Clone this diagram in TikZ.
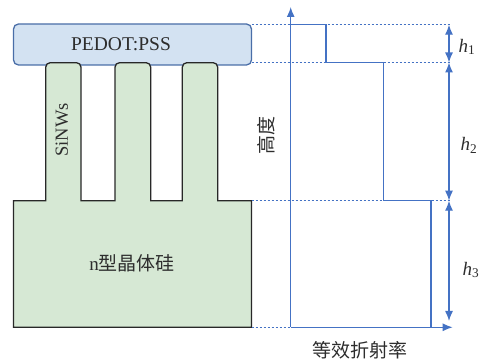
\documentclass[tikz,border=0pt]{standalone}
\usepackage{fontspec}
\setmainfont{Liberation Serif}
\newfontfamily\cjk{Noto Sans CJK SC}
\usetikzlibrary{arrows.meta}
\definecolor{lineblue}{RGB}{68,114,196}
\definecolor{boxfill}{RGB}{211,226,242}
\definecolor{boxline}{RGB}{74,110,168}
\definecolor{sifill}{RGB}{214,232,212}
\definecolor{siline}{RGB}{40,40,40}
\definecolor{txt}{RGB}{45,45,45}
\begin{document}
\begin{tikzpicture}[x=1pt,y=1pt,
  axis/.style={lineblue, line width=1.3pt, -{Latex[length=10pt,width=8pt]}},
  dim/.style={lineblue, line width=1.3pt, {Latex[length=10pt,width=8pt]}-{Latex[length=10pt,width=8pt]}},
  guide/.style={lineblue, line width=1pt, dash pattern=on 2pt off 2pt},
  profile/.style={lineblue, line width=1.3pt},
  lbl/.style={text=txt, font=\fontsize{19}{22}\selectfont, inner sep=0pt},
  pedotbox/.style={draw=boxline, fill=boxfill, line width=1.3pt, rounded corners=5pt, inner sep=0pt},
  sishape/.style={draw=siline, fill=sifill, line width=1.3pt}]
\useasboundingbox (0,0) rectangle (484,363);
% PEDOT:PSS layer
\node (pedot) [pedotbox, minimum width=238pt, minimum height=41pt] at (132.5,318.5) {};
\node (pedottext) [lbl, font=\fontsize{19.5}{22}\selectfont] at (121,318.5) {PEDOT:PSS};
% silicon with nanowires
\draw[sishape]
  (13.5,35.7) -- (13.5,162.3) -- (45.7,162.3) -- (45.7,295.8)
  arc[start angle=180,end angle=90,radius=4.5] -- (76.5,300.3)
  arc[start angle=90,end angle=0,radius=4.5] -- (81,162.3) -- (115,162.3) -- (115,295.8)
  arc[start angle=180,end angle=90,radius=4.5] -- (146.2,300.3)
  arc[start angle=90,end angle=0,radius=4.5] -- (150.7,162.3) -- (182.3,162.3) -- (182.3,295.8)
  arc[start angle=180,end angle=90,radius=4.5] -- (213.2,300.3)
  arc[start angle=90,end angle=0,radius=4.5] -- (217.7,162.3) -- (251.5,162.3) -- (251.5,35.7) -- cycle;
\node (nsi) [lbl] at (132,100) {n{\cjk 型晶体硅}};
\node (sinw) [lbl, rotate=90, font=\fontsize{18.5}{22}\selectfont] at (62,233) {SiNWs};
% coordinates
\coordinate (O) at (290.7,35.7);
\coordinate (ytip) at (290.7,356);
\coordinate (xtip) at (452.7,35.7);
\coordinate (p1) at (290.7,338.3);
\coordinate (p2) at (326,338.3);
\coordinate (p3) at (326,300.5);
\coordinate (p4) at (383.3,300.5);
\coordinate (p5) at (383.3,162.3);
\coordinate (p6) at (431,162.3);
\coordinate (p7) at (431,35.7);
\coordinate (gl1) at (251.5,338.3);
\coordinate (gr1) at (450,338.3);
\coordinate (gl2) at (251.5,300.5);
\coordinate (gr2) at (450,300.5);
\coordinate (gl3) at (251.5,162.3);
\coordinate (gr3) at (450,162.3);
\coordinate (gl4) at (251.5,35.7);
\coordinate (d1) at (449,338.3);
\coordinate (d2) at (449,300.5);
\coordinate (d3) at (449,162.3);
\coordinate (d4) at (449,42);
% guides
\draw[guide] (gl1) -- (gr1);
\draw[guide] (gl2) -- (gr2);
\draw[guide] (gl3) -- (gr3);
\draw[guide] (gl4) -- (O);
% axes
\draw[axis] (O) -- (ytip);
\draw[axis] (p7) -- (xtip);
\draw[profile] (p1) -- (p2) -- (p3) -- (p4) -- (p5) -- (p6) -- (p7) -- (O);
% dimension arrows
\draw[dim] (d1) -- (d2);
\draw[dim] (d2) -- (d3);
\draw[dim] (d3) -- (d4);
\node (h1) [lbl] at (467,316) {\itshape h\upshape\textsubscript{1}};
\node (h2) [lbl] at (469,218) {\itshape h\upshape\textsubscript{2}};
\node (h3) [lbl] at (471,93) {\itshape h\upshape\textsubscript{3}};
% axis labels
\node (height) [lbl, rotate=90] at (266,227) {\cjk 高度};
\node (index) [lbl] at (360,13) {\cjk 等效折射率};
\end{tikzpicture}
\end{document}
